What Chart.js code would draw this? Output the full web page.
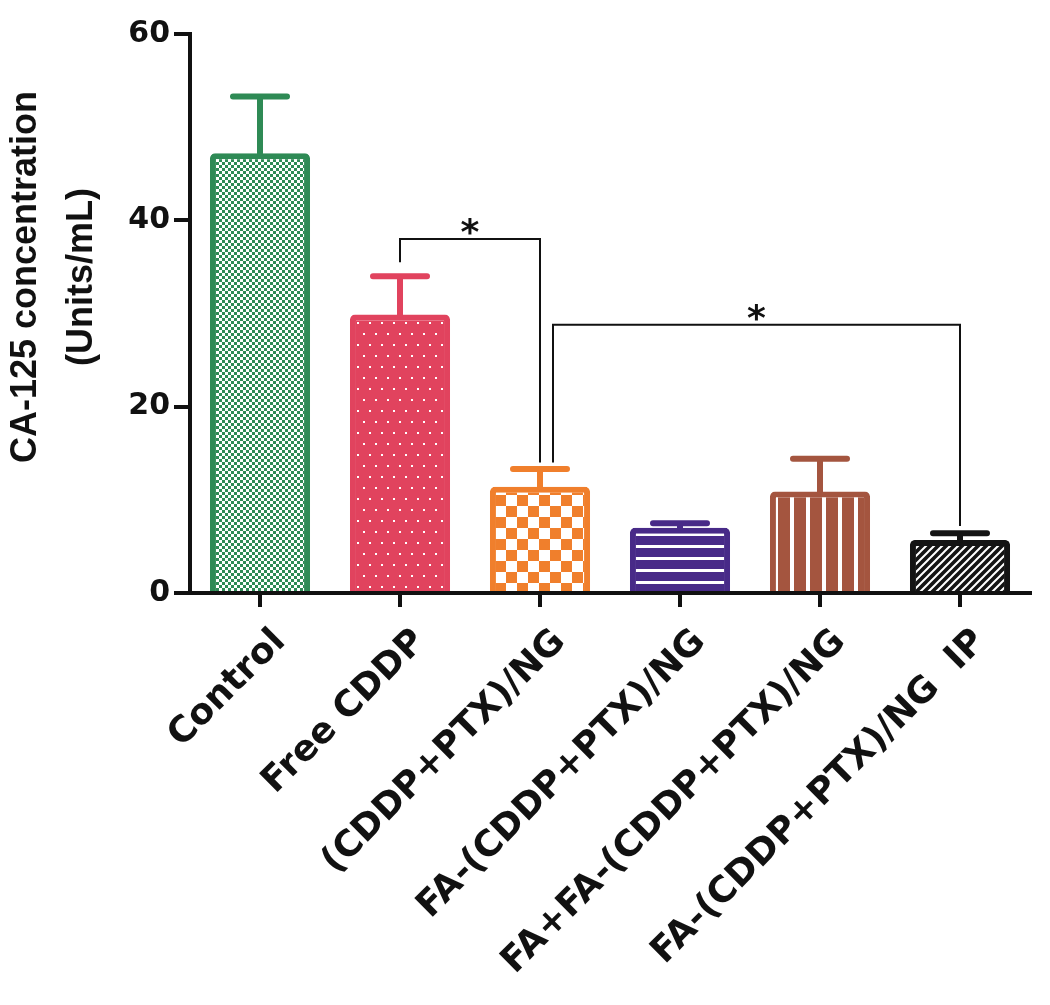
<!DOCTYPE html>
<html>
<head>
<meta charset="utf-8">
<script src="https://cdn.jsdelivr.net/npm/chart.js@4.4.0/dist/chart.umd.min.js"></script>
<style>
  html, body { margin: 0; padding: 0; background: #fff; }
</style>
</head>
<body>
<canvas id="chart" width="1050" height="1005"></canvas>
<script>
const groups = ['Control', 'Free CDDP', '(CDDP+PTX)/NG', 'FA-(CDDP+PTX)/NG', 'FA+FA-(CDDP+PTX)/NG', 'FA-(CDDP+PTX)/NG  IP']
const means = [47.2, 29.9, 11.4, 7.0, 10.9, 5.7]
const errors = [6.1, 4.1, 1.9, 0.5, 3.5, 0.7]
const yTicks = [0, 20, 40, 60]

// significance brackets (bar index from/to, bracket level, where each leg stops)
const sigFrom = [1, 2]
const sigTo = [2, 5]
const sigLevel = [38, 28.8]
const sigFromEnd = [35.5, 14]
const sigToEnd = [14, 7.2]
const sigLabel = ['*', '*']

const colors = ['#2e8a55', '#e1435e', '#f07f2c', '#482a88', '#a4553f', '#141414']

const ctx = document.getElementById('chart').getContext('2d')

function makePattern(w, h, draw) {
    const c = document.createElement('canvas')
    c.width = w
    c.height = h
    draw(c.getContext('2d'), w, h)
    return ctx.createPattern(c, 'repeat')
}

const fills = [
    makePattern(6, 6, (g) => {
        g.fillStyle = '#fff'; g.fillRect(0, 0, 6, 6)
        g.fillStyle = colors[0]; g.fillRect(0, 0, 3, 3); g.fillRect(3, 3, 3, 3)
    }),
    makePattern(12, 22, (g) => {
        g.fillStyle = colors[1]; g.fillRect(0, 0, 12, 22)
        g.fillStyle = '#fff'; g.fillRect(3, 3, 2, 2); g.fillRect(9, 14, 2, 2)
    }),
    makePattern(22, 22, (g) => {
        g.fillStyle = '#fff'; g.fillRect(0, 0, 22, 22)
        g.fillStyle = colors[2]; g.fillRect(0, 0, 11, 11); g.fillRect(11, 11, 11, 11)
    }),
    makePattern(12, 12, (g) => {
        g.fillStyle = colors[3]; g.fillRect(0, 0, 12, 12)
        g.fillStyle = '#fff'; g.fillRect(0, 5, 12, 3)
    }),
    makePattern(16, 16, (g) => {
        g.fillStyle = colors[4]; g.fillRect(0, 0, 16, 16)
        g.fillStyle = '#fff'; g.fillRect(6, 0, 4, 16)
    }),
    makePattern(8, 8, (g) => {
        g.fillStyle = colors[5]; g.fillRect(0, 0, 8, 8)
        g.strokeStyle = '#fff'; g.lineWidth = 2
        g.beginPath()
        g.moveTo(0, 8); g.lineTo(8, 0)
        g.moveTo(-2, 2); g.lineTo(2, -2)
        g.moveTo(6, 10); g.lineTo(10, 6)
        g.stroke()
    })
]

const extras = {
    id: 'extras',
    afterDatasetsDraw(chart) {
        const c = chart.ctx
        const xs = chart.scales.x
        const ys = chart.scales.y
        c.save()
        // error bars (upper only)
        c.lineCap = 'round'
        c.lineWidth = 6
        means.forEach((m, i) => {
            const x = xs.getPixelForValue(i)
            const y0 = ys.getPixelForValue(m)
            const y1 = ys.getPixelForValue(m + errors[i])
            c.strokeStyle = colors[i]
            c.beginPath()
            c.moveTo(x, y0)
            c.lineTo(x, y1)
            c.moveTo(x - 27, y1)
            c.lineTo(x + 27, y1)
            c.stroke()
        })
        // brackets
        c.lineCap = 'butt'
        c.lineWidth = 2
        c.strokeStyle = '#111'
        c.fillStyle = '#111'
        c.font = 'bold 36px "DejaVu Sans"'
        c.textAlign = 'center'
        c.textBaseline = 'alphabetic'
        sigFrom.forEach((a, k) => {
            const nudge = k > 0 ? 13 : 0
            const xa = xs.getPixelForValue(a) + nudge
            const xb = xs.getPixelForValue(sigTo[k])
            const yl = ys.getPixelForValue(sigLevel[k])
            c.beginPath()
            c.moveTo(xa, ys.getPixelForValue(sigFromEnd[k]))
            c.lineTo(xa, yl)
            c.lineTo(xb, yl)
            c.lineTo(xb, ys.getPixelForValue(sigToEnd[k]))
            c.stroke()
            c.fillText(sigLabel[k], (xa + xb) / 2, yl + 5)
        })
        c.restore()
    },
    afterDraw(chart) {
        const c = chart.ctx
        c.save()
        c.fillStyle = '#111'
        c.font = 'bold 36px "Liberation Sans", Arial, sans-serif'
        c.textAlign = 'center'
        c.textBaseline = 'alphabetic'
        c.translate(0, 277)
        c.rotate(-Math.PI / 2)
        c.fillText('CA-125 concentration', 0, 36)
        c.fillText('(Units/mL)', 0, 92)
        c.restore()
    }
}

Chart.defaults.font.family = '"DejaVu Sans", sans-serif'
Chart.defaults.color = '#111'

new Chart(ctx, {
    type: 'bar',
    data: {
        labels: groups,
        datasets: [{
            data: means,
            backgroundColor: fills,
            borderColor: colors,
            borderWidth: 6,
            borderRadius: 5,
            barPercentage: 0.715,
            categoryPercentage: 1
        }]
    },
    options: {
        responsive: false,
        devicePixelRatio: 1,
        animation: false,
        layout: { padding: { top: 34, right: 20, left: 0, bottom: 0 } },
        plugins: { legend: { display: false }, tooltip: { enabled: false } },
        scales: {
            x: {
                grid: { offset: false, drawOnChartArea: false, tickLength: 14, lineWidth: 4, color: '#111' },
                border: { display: true, width: 4, color: '#111' },
                ticks: {
                    autoSkip: false,
                    minRotation: 45,
                    maxRotation: 45,
                    labelOffset: 20,
                    padding: 14,
                    font: { size: 36, weight: 'bold' },
                    color: '#111'
                },
                afterFit: (s) => { s.height = 412 }
            },
            y: {
                min: 0,
                max: 60,
                afterBuildTicks: (s) => { s.ticks = yTicks.map(v => ({ value: v })) },
                grid: { drawOnChartArea: false, tickLength: 16, lineWidth: 4, color: '#111' },
                border: { display: true, width: 4, color: '#111' },
                ticks: { padding: 4, font: { size: 30, weight: 'bold' }, color: '#111' },
                afterFit: (s) => { s.width = 190 }
            }
        }
    },
    plugins: [extras]
})
</script>
</body>
</html>
